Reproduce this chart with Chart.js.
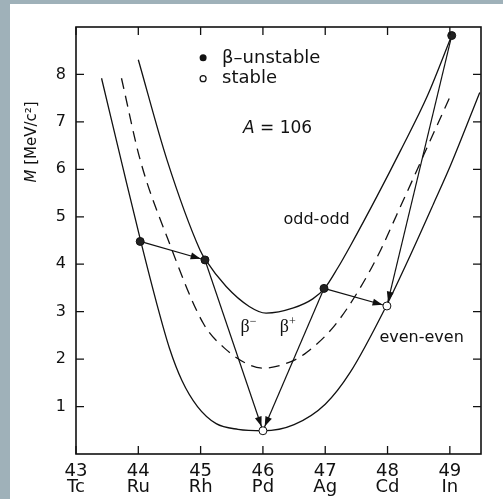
<!DOCTYPE html>
<html>
<head>
<meta charset="utf-8">
<script src="https://cdn.jsdelivr.net/npm/chart.js@4.4.1/dist/chart.umd.min.js"></script>
<style>
  html, body { margin: 0; padding: 0; background: #fff; }
  #wrap { width: 503px; height: 499px; }
</style>
</head>
<body>
<div id="wrap"><canvas id="massChart" width="503" height="499"></canvas></div>
<script>
/*
  Mass parabolas for the A = 106 isobar.
  Values.
*/

// axis ticks
const zTicks = [43, 44, 45, 46, 47, 48, 49];
const elements = ["Tc", "Ru", "Rh", "Pd", "Ag", "Cd", "In"];
const massTicks = [1, 2, 3, 4, 5, 6, 7, 8];

// nuclides (Z, M in MeV/c^2)
const nuclideNames = ["Ru", "Rh", "Pd", "Ag", "Cd", "In"];
const nuclideZ = [44.03, 45.07, 46.0, 46.98, 47.99, 49.03];
const nuclideM = [4.48, 4.09, 0.49, 3.49, 3.12, 8.82];
const nuclideStable = [false, false, true, false, true, false];

// decays: from -> to
const decays = [["Ru", "Rh"], ["Rh", "Pd"], ["Ag", "Pd"], ["Ag", "Cd"], ["In", "Cd"]];

// even-even parabola (lower solid line)
const evenZ = [43.41, 43.75, 44.04, 44.30, 44.50, 44.70, 44.95, 45.25, 45.60, 46.00, 46.50, 47.00, 47.40, 47.98, 48.37, 48.74, 49.01, 49.48];
const evenM = [7.92, 6.05, 4.48, 3.15, 2.23, 1.55, 1.00, 0.64, 0.52, 0.49, 0.62, 1.05, 1.72, 3.12, 4.20, 5.28, 6.08, 7.62];

// dashed middle parabola
const dashZ = [43.73, 44.03, 44.48, 45.04, 45.41, 45.78, 46.01, 46.49, 46.70, 47.14, 47.56, 47.89, 48.15, 48.42, 48.58, 49.01];
const dashM = [7.92, 6.20, 4.51, 2.76, 2.20, 1.88, 1.81, 1.97, 2.14, 2.69, 3.50, 4.30, 5.05, 5.83, 6.30, 7.55];

// odd-odd parabola (upper solid line)
const oddZ = [44.00, 44.46, 44.99, 45.08, 45.41, 45.78, 46.05, 46.49, 46.80, 46.99, 47.20, 47.40, 47.83, 48.21, 48.64, 49.03];
const oddM = [8.31, 6.20, 4.30, 4.09, 3.53, 3.11, 2.97, 3.08, 3.27, 3.49, 3.92, 4.38, 5.43, 6.40, 7.55, 8.82];

const INK = "#111";

function toXY(xs, ys) {
  return xs.map((x, i) => ({ x: x, y: ys[i] }));
}

function nuclide(name) {
  const i = nuclideNames.indexOf(name);
  return { x: nuclideZ[i], y: nuclideM[i] };
}

function curve(xs, ys, dash) {
  return {
    data: toXY(xs, ys),
    borderColor: INK,
    borderWidth: 1.3,
    borderDash: dash || [],
    cubicInterpolationMode: "monotone",
    pointRadius: 0,
    order: 3
  };
}

const arrowSets = decays.map(d => ({
  data: [nuclide(d[0]), nuclide(d[1])],
  borderColor: INK,
  borderWidth: 1.2,
  pointRadius: 0,
  arrow: true,
  order: 2
}));

const pointSet = {
  data: toXY(nuclideZ, nuclideM),
  showLine: false,
  pointRadius: 4,
  pointBorderWidth: 1,
  pointBorderColor: INK,
  pointBackgroundColor: nuclideStable.map(s => s ? "#fff" : "#222"),
  order: 0
};

/* ---- drawing helpers ---- */

const frame = {
  id: "frame",
  beforeDraw(chart) {
    const ctx = chart.ctx;
    ctx.save();
    ctx.fillStyle = "#9fb1b9";
    ctx.fillRect(0, 0, 10, chart.height);
    ctx.fillRect(0, 0, chart.width, 4);
    ctx.restore();
  },
  afterDraw(chart) {
    const { ctx, chartArea: a, scales: { x, y } } = chart;
    const len = 8;
    ctx.save();
    ctx.strokeStyle = INK;
    ctx.lineWidth = 1.6;
    ctx.strokeRect(a.left, a.top, a.right - a.left, a.bottom - a.top);
    ctx.lineWidth = 1.3;
    ctx.beginPath();
    zTicks.forEach(v => {
      const px = x.getPixelForValue(v);
      ctx.moveTo(px, a.bottom); ctx.lineTo(px, a.bottom - len);
      ctx.moveTo(px, a.top); ctx.lineTo(px, a.top + len);
    });
    massTicks.forEach(v => {
      const py = y.getPixelForValue(v);
      ctx.moveTo(a.left, py); ctx.lineTo(a.left + len, py);
      ctx.moveTo(a.right, py); ctx.lineTo(a.right - len, py);
    });
    ctx.stroke();

    // y axis title
    ctx.translate(32, 142);
    ctx.rotate(-Math.PI / 2);
    ctx.fillStyle = INK;
    ctx.textBaseline = "middle";
    ctx.font = "italic 15px 'DejaVu Sans'";
    const mW = ctx.measureText("M").width;
    ctx.font = "15px 'DejaVu Sans'";
    const restW = ctx.measureText(" [MeV/c²]").width;
    const x0 = -(mW + restW) / 2;
    ctx.font = "italic 15px 'DejaVu Sans'";
    ctx.fillText("M", x0, 0);
    ctx.font = "15px 'DejaVu Sans'";
    ctx.fillText(" [MeV/c²]", x0 + mW, 0);
    ctx.restore();
  }
};

const arrowHeads = {
  id: "arrowHeads",
  afterDatasetsDraw(chart) {
    const ctx = chart.ctx;
    ctx.save();
    ctx.fillStyle = INK;
    chart.data.datasets.forEach((ds, i) => {
      if (!ds.arrow) return;
      const pts = chart.getDatasetMeta(i).data;
      const p0 = pts[0], p1 = pts[1];
      const ang = Math.atan2(p1.y - p0.y, p1.x - p0.x);
      const tipX = p1.x - Math.cos(ang) * 4.5;
      const tipY = p1.y - Math.sin(ang) * 4.5;
      const L = 10, W = 3.5;
      ctx.beginPath();
      ctx.moveTo(tipX, tipY);
      ctx.lineTo(tipX - L * Math.cos(ang) + W * Math.sin(ang), tipY - L * Math.sin(ang) - W * Math.cos(ang));
      ctx.lineTo(tipX - L * Math.cos(ang) - W * Math.sin(ang), tipY - L * Math.sin(ang) + W * Math.cos(ang));
      ctx.closePath();
      ctx.fill();
    });
    ctx.restore();
  }
};

const notes = {
  id: "notes",
  afterDraw(chart) {
    const { ctx, scales: { x, y } } = chart;
    ctx.save();
    ctx.fillStyle = INK;
    ctx.strokeStyle = INK;
    ctx.textBaseline = "middle";

    // legend
    const lx = x.getPixelForValue(45.04);
    const ly1 = y.getPixelForValue(8.35);
    const ly2 = y.getPixelForValue(7.91);
    ctx.beginPath(); ctx.arc(lx, ly1, 3.5, 0, Math.PI * 2); ctx.fill();
    ctx.lineWidth = 1.2;
    ctx.beginPath(); ctx.arc(lx, ly2, 3, 0, Math.PI * 2); ctx.stroke();
    ctx.font = "18px 'DejaVu Sans'";
    ctx.fillText("β–unstable", lx + 19, ly1);
    ctx.fillText("stable", lx + 19, ly2);

    // A = 106
    let px = x.getPixelForValue(45.68), py = y.getPixelForValue(6.85);
    ctx.font = "italic 17px 'DejaVu Sans'";
    ctx.fillText("A", px, py);
    const aw = ctx.measureText("A").width;
    ctx.font = "17px 'DejaVu Sans'";
    ctx.fillText(" = 106", px + aw, py);

    ctx.font = "16px 'DejaVu Sans'";
    ctx.fillText("odd-odd", x.getPixelForValue(46.33), y.getPixelForValue(4.94));
    ctx.fillText("even-even", x.getPixelForValue(47.87), y.getPixelForValue(2.45));

    // beta labels
    [["β", "−", 45.64], ["β", "+", 46.27]].forEach(b => {
      const bx = x.getPixelForValue(b[2]), by = y.getPixelForValue(2.68);
      ctx.font = "18px 'Liberation Serif'";
      ctx.fillText(b[0], bx, by);
      const bw = ctx.measureText(b[0]).width;
      ctx.font = "12px 'Liberation Serif'";
      ctx.fillText(b[1], bx + bw, by - 5);
    });
    ctx.restore();
  }
};

new Chart(document.getElementById("massChart"), {
  type: "line",
  data: {
    datasets: [
      curve(evenZ, evenM),
      curve(dashZ, dashM, [11, 7]),
      curve(oddZ, oddM),
      ...arrowSets,
      pointSet
    ]
  },
  options: {
    responsive: false,
    animation: false,
    layout: { padding: { top: 27, right: 22, left: 0, bottom: 0 } },
    plugins: {
      legend: { display: false },
      tooltip: { enabled: false }
    },
    scales: {
      x: {
        type: "linear",
        min: 43,
        max: 49.5,
        afterBuildTicks: s => { s.ticks = zTicks.map(v => ({ value: v })); },
        afterFit: s => { s.height = 45; },
        grid: { display: false, drawTicks: false },
        border: { display: false },
        ticks: {
          padding: 10,
          color: INK,
          maxRotation: 0,
          autoSkip: false,
          font: { family: "DejaVu Sans", size: 18, lineHeight: 0.85 },
          callback: (v, i) => [String(zTicks[i]), elements[i]]
        }
      },
      y: {
        min: 0,
        max: 9,
        afterBuildTicks: s => { s.ticks = massTicks.map(v => ({ value: v })); },
        afterFit: s => { s.width = 76; },
        grid: { display: false, drawTicks: false },
        border: { display: false },
        ticks: {
          padding: 10,
          color: INK,
          font: { family: "DejaVu Sans", size: 16 },
          callback: (v, i) => String(massTicks[i])
        }
      }
    }
  },
  plugins: [frame, arrowHeads, notes]
});
</script>
</body>
</html>
